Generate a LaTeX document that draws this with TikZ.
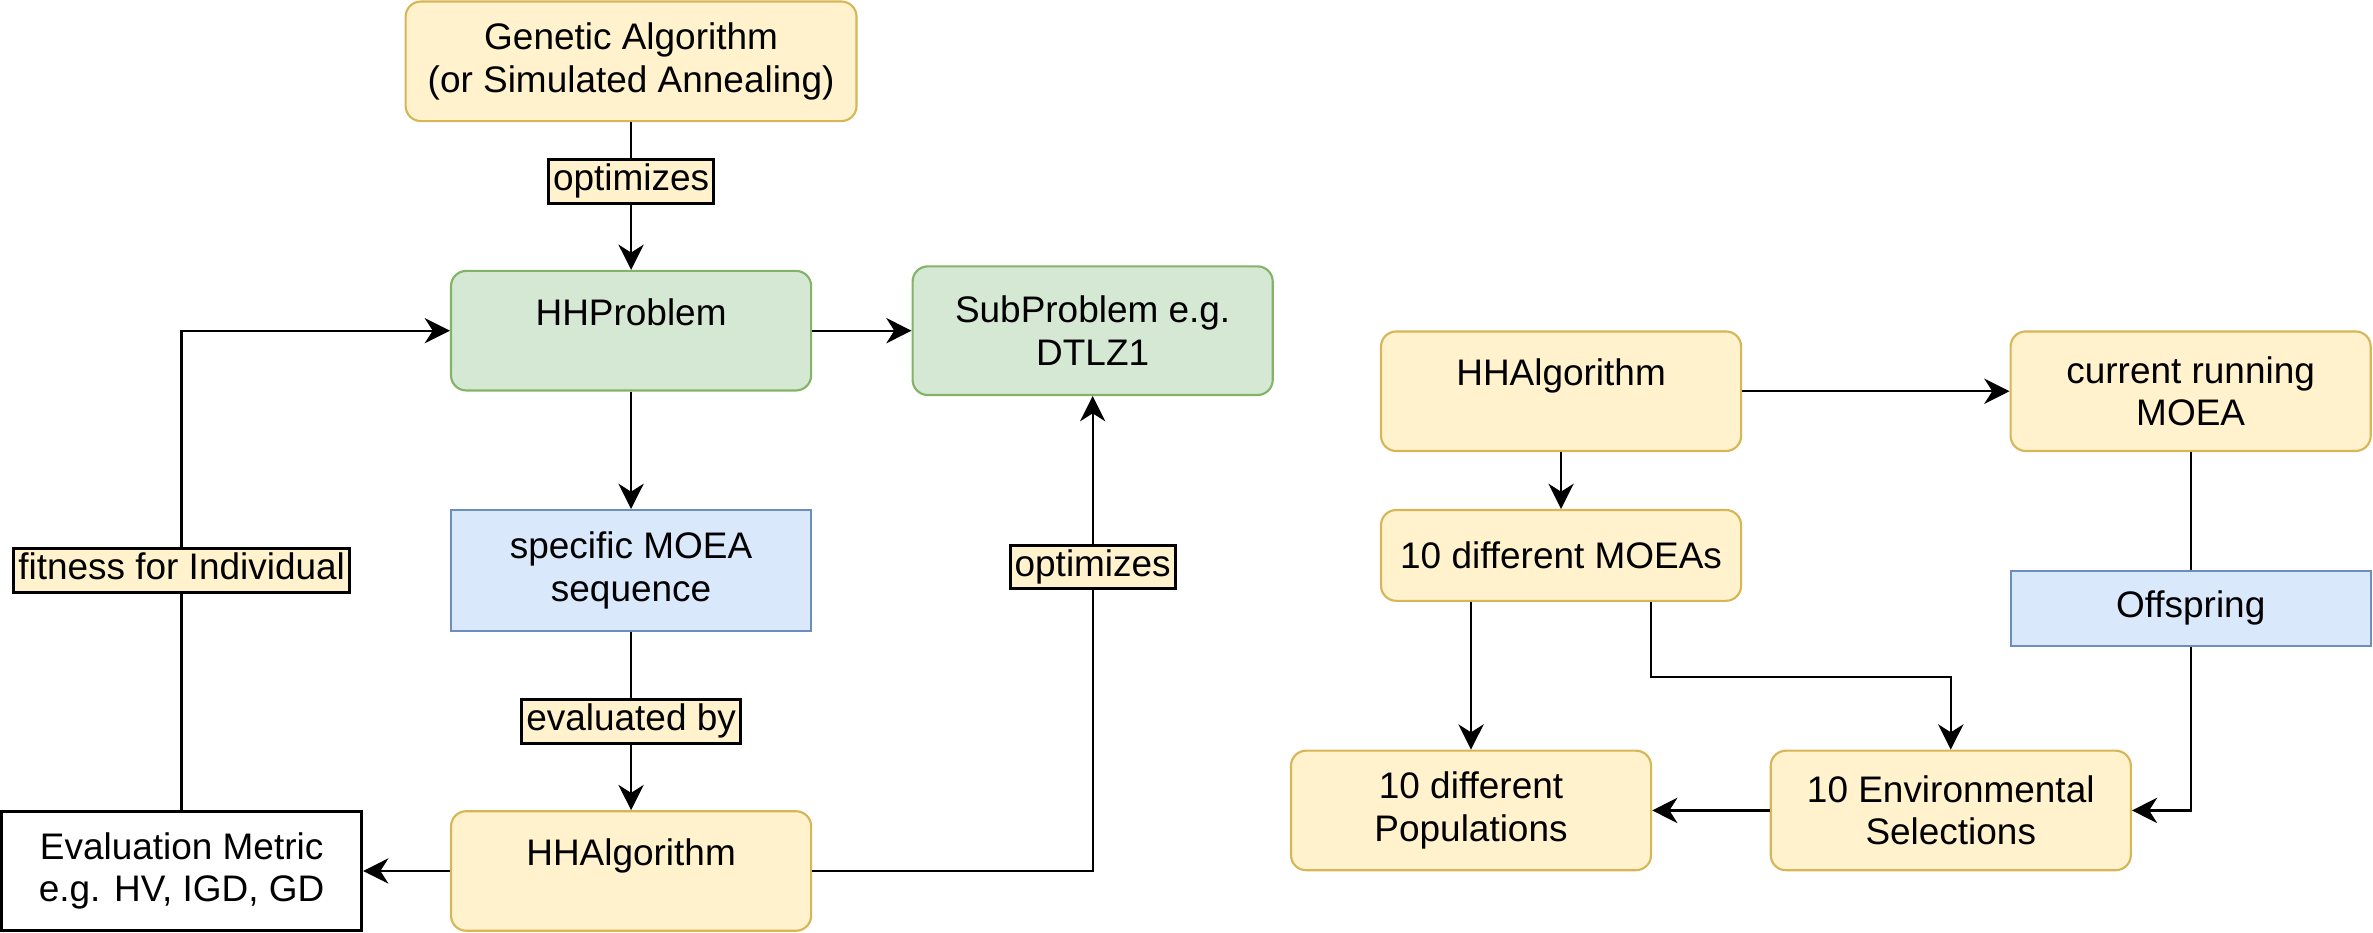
\documentclass[tikz,border=0pt]{standalone}
\usepackage{fontspec}
\setmainfont{Liberation Sans}
\usetikzlibrary{arrows.meta,positioning}
\definecolor{yelfill}{HTML}{FFF2CC}
\definecolor{yeldraw}{HTML}{D6B656}
\definecolor{grnfill}{HTML}{D5E8D4}
\definecolor{grndraw}{HTML}{82B366}
\definecolor{blufill}{HTML}{DAE8FC}
\definecolor{bludraw}{HTML}{6C8EBF}

\begin{document}
\begin{tikzpicture}[x=0.02cm,y=-0.02cm,line width=0.85pt,
 >={Stealth[length=9.5pt,width=9.5pt,inset=3pt]},
 every node/.style={font=\fontsize{13.9}{16}\selectfont,align=center},
 box/.style={rounded corners=0.2cm,line width=0.8pt,minimum width=4.76cm,minimum height=1.58cm},
 yel/.style={box,draw=yeldraw,fill=yelfill},
 grn/.style={box,draw=grndraw,fill=grnfill},
 blu/.style={rectangle,line width=0.8pt,draw=bludraw,fill=blufill,minimum width=4.76cm},
 toptxt/.style={text depth=0.5cm},
 lab/.style={draw,line width=1.1pt,fill=yelfill,inner xsep=0.06cm,inner ysep=0.05cm,
   text height=0.36cm,text depth=0.12cm}]
\useasboundingbox (0,0) rectangle (1568,616);
% left part
\node[yel,minimum width=5.96cm] (ga) at (417,40.5) {Genetic Algorithm\\(or Simulated Annealing)};
\node[grn,toptxt] (hhp) at (417,218.5) {HHProblem};
\node[grn,minimum height=1.7cm] (sub) at (722,218.5) {SubProblem e.g.\\DTLZ1};
\node[blu,minimum height=1.6cm] (seq) at (417,377) {specific MOEA\\sequence};
\node[yel,toptxt] (hhalg) at (417,575.5) {HHAlgorithm};
\node[draw,line width=1.1pt,fill=white,minimum width=4.76cm,minimum height=1.58cm] (metric) at (120,575.5) {Evaluation Metric\\e.g. HV, IGD, GD};
\draw[->] (ga)--node[lab,pos=.4] {optimizes}(hhp);
\draw[->] (hhp)--(sub);
\draw[->] (hhp)--(seq);
\draw[->] (seq)--node[lab] {evaluated by}(hhalg);
\draw[->] (hhalg)--(metric);
\draw[->] (hhalg) -| node[lab,pos=.82] {optimizes}(sub);
\draw[->] (metric) |- node[lab,pos=.25] {fitness for Individual}(hhp);
% right part
\node[yel,toptxt] (hhalg2) at (1031.5,258.5) {HHAlgorithm};
\node[yel] (cur) at (1447.5,258.5) {current running\\MOEA};
\node[yel,minimum height=1.2cm] (moeas) at (1031.5,367) {10 different MOEAs};
\node[blu,minimum height=1cm] (off) at (1447.5,402) {Offspring};
\node[yel] (pops) at (972,535.5) {10 different\\Populations};
\node[yel] (envsel) at (1289,535.5) {10 Environmental\\Selections};
\draw[->] (hhalg2)--(cur);
\draw[->] (hhalg2)--(moeas);
\draw[->] (pops.north |- moeas.south)--(pops);
\draw[->] ([xshift=1.19cm]moeas.south)--++(0,-0.99cm) -| (envsel);
\draw (cur)--(off);
\draw[->] (off) |- (envsel);
\draw[->] (envsel)--(pops);
\end{tikzpicture}
\end{document}
